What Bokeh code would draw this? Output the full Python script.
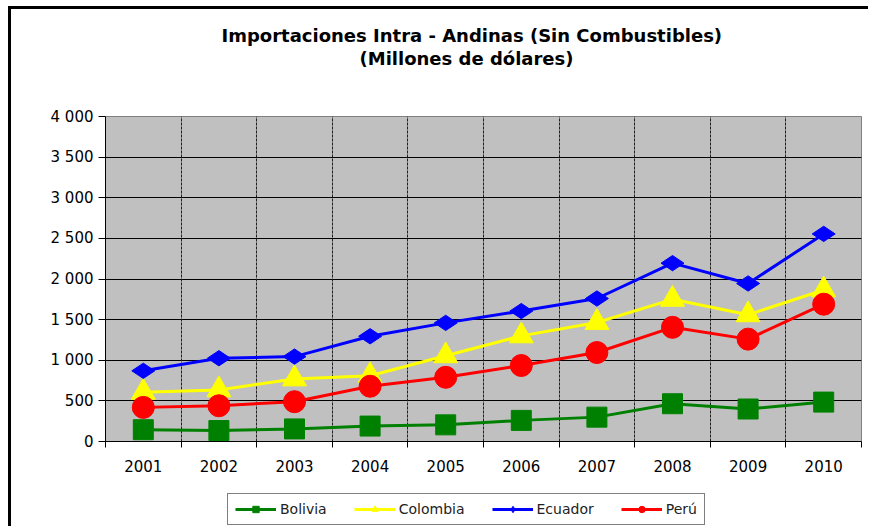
from bokeh.plotting import figure
from bokeh.models import (FixedTicker, Range1d, Legend, LegendItem, Title, Grid)
from bokeh.layouts import column
from bokeh.embed import file_html
from bokeh.resources import INLINE
import math

# ---- data ----
years = ["2001", "2002", "2003", "2004", "2005", "2006", "2007", "2008", "2009", "2010"]
bolivia = [145, 135, 155, 190, 205, 260, 300, 465, 400, 485]
colombia = [605, 635, 770, 810, 1055, 1300, 1465, 1750, 1560, 1865]
ecuador = [870, 1025, 1045, 1295, 1460, 1605, 1760, 2195, 1945, 2555]
peru = [420, 440, 490, 680, 790, 935, 1095, 1405, 1260, 1690]
y_ticks = [0, 500, 1000, 1500, 2000, 2500, 3000, 3500, 4000]
y_tick_labels = ["0", "500", "1 000", "1 500", "2 000", "2 500", "3 000", "3 500", "4 000"]
title_line1 = "Importaciones Intra - Andinas (Sin Combustibles)"
title_line2 = "(Millones de dólares)"

x = [i + 0.5 for i in range(len(years))]

FONT = "DejaVu Sans"

p = figure(width=860, height=472, output_backend="svg", toolbar_location=None,
           x_range=Range1d(0, len(years)), y_range=Range1d(0, 4000),
           min_border_left=94, min_border_right=10, min_border_top=107,
           min_border_bottom=40)
p.styles = {"border-left": "3px solid black", "border-top": "3px solid black"}
p.margin = (6, 0, 0, 8)

p.background_fill_color = "#C0C0C0"
p.border_fill_color = "white"
p.outline_line_color = "#808080"
p.outline_line_width = 1

# x axis: labels at category centres, small ticks at category boundaries
p.xaxis.ticker = FixedTicker(ticks=x, minor_ticks=list(range(len(years) + 1)))
p.xaxis.major_label_overrides = {xx: yr for xx, yr in zip(x, years)}
p.xaxis.major_tick_line_color = None
p.xaxis.major_tick_out = 0
p.xaxis.major_tick_in = 0
p.xaxis.minor_tick_line_color = "black"
p.xaxis.minor_tick_out = 6
p.xaxis.minor_tick_in = 0
p.xaxis.major_label_standoff = 12
p.xaxis.axis_line_color = "black"
p.xaxis.major_label_text_font = FONT
p.xaxis.major_label_text_font_size = "15px"
p.xaxis.major_label_text_color = "black"

# y axis
p.yaxis.ticker = FixedTicker(ticks=y_ticks)
p.yaxis.major_label_overrides = {t: l for t, l in zip(y_ticks, y_tick_labels)}
p.yaxis.major_tick_out = 7
p.yaxis.major_tick_in = 0
p.yaxis.minor_tick_line_color = None
p.yaxis.major_label_standoff = 5
p.yaxis.axis_line_color = "black"
p.yaxis.major_tick_line_color = "black"
p.yaxis.major_label_text_font = FONT
p.yaxis.major_label_text_font_size = "15px"
p.yaxis.major_label_text_color = "black"

# grids
p.xgrid.grid_line_color = None
p.ygrid.grid_line_color = "black"
p.ygrid.grid_line_width = 1
vgrid = Grid(dimension=0, ticker=FixedTicker(ticks=list(range(1, len(years)))),
             grid_line_color="#202020", grid_line_dash="3 1", grid_line_width=1)
p.add_layout(vgrid)

series = [
    ("Bolivia", bolivia, "#008000", "square", 20, 0),
    ("Colombia", colombia, "#FFFF00", "triangle", 24, 0),
    ("Ecuador", ecuador, "#0000FF", "diamond", 23, math.pi / 2),
    ("Perú", peru, "#FF0000", "circle", 22, 0),
]

# legend strip: a second figure (its frame is aligned with the main frame)
lf = figure(width=860, height=48, output_backend="svg", toolbar_location=None,
            x_range=Range1d(-20, -19), y_range=Range1d(-20, -19),
            x_axis_location=None, y_axis_location=None,
            min_border_left=0, min_border_right=0, min_border_top=0,
            min_border_bottom=0)
lf.styles = {"border-left": "3px solid black"}
lf.margin = (0, 0, 0, 8)
lf.outline_line_color = None
lf.background_fill_color = "white"
lf.border_fill_color = "white"
lf.xgrid.grid_line_color = None
lf.ygrid.grid_line_color = None

items = []
for name, ys, col, mk, sz, ang in series:
    p.line(x, ys, line_color=col, line_width=3)
    p.scatter(x, ys, marker=mk, size=sz, angle=ang, fill_color=col, line_color=col)
    l1 = lf.line(x, ys, line_color=col, line_width=3)
    l2 = lf.scatter(x, ys, marker=mk, size=sz, angle=ang, fill_color=col, line_color=col)
    items.append(LegendItem(label=name, renderers=[l1, l2]))

legend = Legend(items=items, orientation="horizontal", location=(122, 1),
                border_line_color="black", border_line_width=1,
                background_fill_color="white", background_fill_alpha=1,
                padding=7, spacing=27, margin=0, glyph_width=41, glyph_height=16,
                label_height=16, label_standoff=4,
                label_text_font=FONT, label_text_font_size="14px",
                label_text_color="#222222")
lf.add_layout(legend, "center")

has_standoff = "standoff" in Title.properties()


def make_title(text, size, **kw):
    if has_standoff:
        kw["standoff"] = 0
    return Title(text=text, text_font_size=size, **kw)


# titles (stacked outward from the frame: spacer, line 2, line 1)
p.add_layout(make_title(" ", "41px"), "above")
p.add_layout(make_title(title_line2, "18px", align="left", offset=254, text_font=FONT,
                        text_font_style="bold", text_color="black"), "above")
p.add_layout(make_title(title_line1, "18px", align="left", offset=116, text_font=FONT,
                        text_font_style="bold", text_color="black"), "above")

layout = column(p, lf, spacing=0)
open("out.html", "w").write(file_html(layout, INLINE))
